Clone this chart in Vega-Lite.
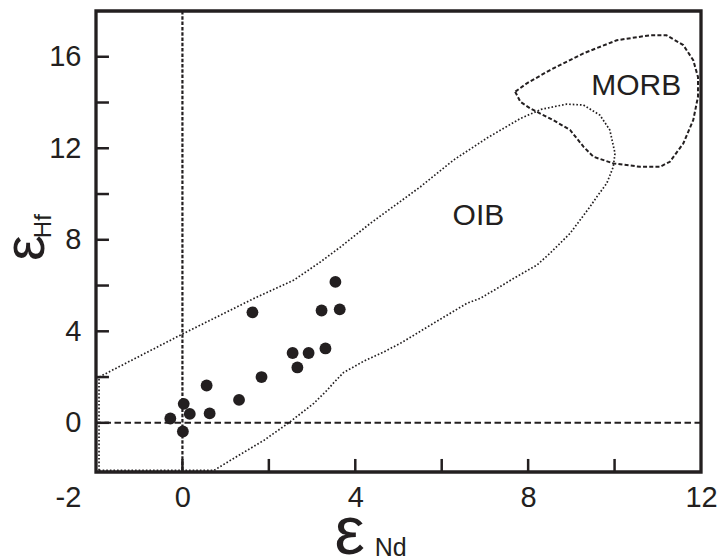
{
  "$schema": "https://vega.github.io/schema/vega-lite/v6.json",
  "width": 605,
  "height": 461,
  "autosize": {"type": "none"},
  "padding": {"left": 96, "top": 11, "right": 24, "bottom": 88},
  "config": {
    "view": {"stroke": "#231f20", "strokeWidth": 3.3},
    "font": "Liberation Sans",
    "axis": {
      "domain": false,
      "grid": false,
      "ticks": false,
      "labelFont": "Liberation Sans",
      "labelFontSize": 29,
      "labelColor": "#231f20"
    }
  },
  "datasets": {
    "oib": [
      {"o": 1, "x": -1.93, "y": -2.08},
      {"o": 2, "x": -1.93, "y": 2.0},
      {"o": 3, "x": 0, "y": 3.88},
      {"o": 4, "x": 1.66, "y": 5.44},
      {"o": 5, "x": 2.58, "y": 6.24},
      {"o": 6, "x": 3.2, "y": 7.04},
      {"o": 7, "x": 3.66, "y": 7.69},
      {"o": 8, "x": 4.35, "y": 8.72},
      {"o": 9, "x": 5.51, "y": 10.32},
      {"o": 10, "x": 6.27, "y": 11.48},
      {"o": 11, "x": 7.05, "y": 12.45},
      {"o": 12, "x": 7.82, "y": 13.3},
      {"o": 13, "x": 8.3, "y": 13.7},
      {"o": 14, "x": 8.89, "y": 13.93},
      {"o": 15, "x": 9.28, "y": 13.89},
      {"o": 16, "x": 9.66, "y": 13.45},
      {"o": 17, "x": 9.89, "y": 12.8},
      {"o": 18, "x": 10.01, "y": 11.78},
      {"o": 19, "x": 9.97, "y": 11.19},
      {"o": 20, "x": 9.82, "y": 10.47},
      {"o": 21, "x": 9.59, "y": 9.88},
      {"o": 22, "x": 9.43, "y": 9.44},
      {"o": 23, "x": 8.97, "y": 8.28},
      {"o": 24, "x": 8.5, "y": 7.4},
      {"o": 25, "x": 8.2, "y": 6.89},
      {"o": 26, "x": 7.66, "y": 6.31},
      {"o": 27, "x": 7.35, "y": 5.95},
      {"o": 28, "x": 6.89, "y": 5.44},
      {"o": 29, "x": 6.58, "y": 5.22},
      {"o": 30, "x": 5.81, "y": 4.35},
      {"o": 31, "x": 5.04, "y": 3.47},
      {"o": 32, "x": 4.66, "y": 3.1},
      {"o": 33, "x": 4.2, "y": 2.7},
      {"o": 34, "x": 3.73, "y": 2.2},
      {"o": 35, "x": 3.5, "y": 1.75},
      {"o": 36, "x": 3.35, "y": 1.43},
      {"o": 37, "x": 3.04, "y": 0.85},
      {"o": 38, "x": 2.46, "y": 0.0},
      {"o": 39, "x": 1.89, "y": -0.76},
      {"o": 40, "x": 1.12, "y": -1.63},
      {"o": 41, "x": 0.73, "y": -2.08},
      {"o": 42, "x": -1.93, "y": -2.08}
    ],
    "morb": [
      {"o": 1, "x": 7.7, "y": 14.47},
      {"o": 2, "x": 7.82, "y": 14.03},
      {"o": 3, "x": 8.05, "y": 13.74},
      {"o": 4, "x": 8.58, "y": 13.23},
      {"o": 5, "x": 8.97, "y": 12.8},
      {"o": 6, "x": 9.28, "y": 12.07},
      {"o": 7, "x": 9.51, "y": 11.63},
      {"o": 8, "x": 9.97, "y": 11.34},
      {"o": 9, "x": 10.59, "y": 11.19},
      {"o": 10, "x": 11.05, "y": 11.19},
      {"o": 11, "x": 11.28, "y": 11.41},
      {"o": 12, "x": 11.59, "y": 12.21},
      {"o": 13, "x": 11.82, "y": 13.23},
      {"o": 14, "x": 11.93, "y": 14.25},
      {"o": 15, "x": 11.93, "y": 15.12},
      {"o": 16, "x": 11.82, "y": 15.85},
      {"o": 17, "x": 11.59, "y": 16.51},
      {"o": 18, "x": 11.2, "y": 16.94},
      {"o": 19, "x": 10.82, "y": 16.94},
      {"o": 20, "x": 10.05, "y": 16.72},
      {"o": 21, "x": 9.28, "y": 16.15},
      {"o": 22, "x": 8.51, "y": 15.42},
      {"o": 23, "x": 7.97, "y": 14.84},
      {"o": 24, "x": 7.7, "y": 14.47}
    ],
    "samples": [
      {"x": 1.62, "y": 4.83},
      {"x": 3.54, "y": 6.16},
      {"x": 3.22, "y": 4.91},
      {"x": 3.64, "y": 4.96},
      {"x": 2.55, "y": 3.05},
      {"x": 2.92, "y": 3.05},
      {"x": 3.31, "y": 3.25},
      {"x": 2.66, "y": 2.42},
      {"x": 1.83, "y": 2.0},
      {"x": 0.56, "y": 1.63},
      {"x": 1.31, "y": 1.0},
      {"x": 0.03, "y": 0.83},
      {"x": 0.17, "y": 0.39},
      {"x": 0.63, "y": 0.41},
      {"x": -0.28, "y": 0.19},
      {"x": 0.01, "y": -0.38}
    ],
    "fields": [
      {"name": "OIB", "x": 6.85, "y": 9.03},
      {"name": "MORB", "x": 10.5, "y": 14.7}
    ],
    "xticks": [{"v": 0}, {"v": 2}, {"v": 4}, {"v": 6}, {"v": 8}, {"v": 10}],
    "yticks": [{"v": 0}, {"v": 2}, {"v": 4}, {"v": 6}, {"v": 8}, {"v": 10}, {"v": 12}, {"v": 14}, {"v": 16}],
    "one": [{"k": 1}]
  },
  "layer": [
    {
      "data": {"name": "one"},
      "mark": {"type": "rule", "color": "#231f20", "strokeWidth": 2.2, "strokeDash": [3.5, 1.8]},
      "encoding": {"x": {"datum": 0, "type": "quantitative", "axis": {"title": null}}}
    },
    {
      "data": {"name": "one"},
      "mark": {"type": "rule", "color": "#231f20", "strokeWidth": 2, "strokeDash": [6.5, 3.5]},
      "encoding": {"y": {"datum": 0, "type": "quantitative", "axis": {"title": null}}}
    },
    {
      "data": {"name": "oib"},
      "mark": {"type": "line", "color": "#231f20", "strokeWidth": 1.7, "strokeDash": [1.6, 2.0], "strokeCap": "butt"},
      "encoding": {
        "x": {"field": "x", "type": "quantitative", "axis": {"title": null}},
        "y": {"field": "y", "type": "quantitative", "axis": {"title": null}},
        "order": {"field": "o"}
      }
    },
    {
      "data": {"name": "morb"},
      "mark": {"type": "line", "color": "#231f20", "strokeWidth": 2, "strokeDash": [4, 2.2]},
      "encoding": {
        "x": {"field": "x", "type": "quantitative", "axis": {"title": null}},
        "y": {"field": "y", "type": "quantitative", "axis": {"title": null}},
        "order": {"field": "o"}
      }
    },
    {
      "data": {"name": "samples"},
      "mark": {"type": "point", "filled": true, "color": "#231f20", "opacity": 1, "size": 140},
      "encoding": {
        "x": {
          "field": "x", "type": "quantitative",
          "scale": {"domain": [-2, 12], "nice": false, "zero": false},
          "axis": {
            "values": [-2, 0, 4, 8, 12],
            "labelExpr": "'' + datum.value",
            "labelPadding": 11,
            "labelOffset": {"condition": {"test": "datum.value == -2", "value": -28}, "value": 0},
            "labelFlush": false,
            "labelOverlap": false,
            "title": null
          }
        },
        "y": {
          "field": "y", "type": "quantitative",
          "scale": {"domain": [-2.15, 18], "nice": false, "zero": false},
          "axis": {
            "values": [0, 4, 8, 12, 16],
            "labelExpr": "'' + datum.value",
            "labelPadding": 15,
            "labelFlush": false,
            "labelOverlap": false,
            "title": null
          }
        }
      }
    },
    {
      "data": {"name": "fields"},
      "mark": {"type": "text", "font": "Liberation Sans", "fontSize": 30, "color": "#231f20", "align": "center", "baseline": "middle"},
      "encoding": {
        "x": {"field": "x", "type": "quantitative", "axis": {"title": null}},
        "y": {"field": "y", "type": "quantitative", "axis": {"title": null}},
        "text": {"field": "name"}
      }
    },
    {
      "data": {"name": "one"},
      "mark": {"type": "text", "font": "Liberation Sans", "fontSize": 68, "color": "#231f20", "align": "center", "baseline": "alphabetic"},
      "encoding": {
        "x": {"datum": 3.87, "type": "quantitative", "axis": {"title": null}},
        "y": {"datum": -5.72, "type": "quantitative", "axis": {"title": null}},
        "text": {"value": "ε"}
      }
    },
    {
      "data": {"name": "one"},
      "mark": {"type": "text", "font": "Liberation Sans", "fontSize": 25, "color": "#231f20", "align": "left", "baseline": "alphabetic"},
      "encoding": {
        "x": {"datum": 4.45, "type": "quantitative", "axis": {"title": null}},
        "y": {"datum": -5.83, "type": "quantitative", "axis": {"title": null}},
        "text": {"value": "Nd"}
      }
    },
    {
      "data": {"name": "one"},
      "mark": {"type": "text", "font": "Liberation Sans", "fontSize": 58, "color": "#231f20", "align": "center", "baseline": "alphabetic", "angle": 270},
      "encoding": {
        "x": {"datum": -3.2, "type": "quantitative", "axis": {"title": null}},
        "y": {"datum": 7.64, "type": "quantitative", "axis": {"title": null}},
        "text": {"value": "ε"}
      }
    },
    {
      "data": {"name": "one"},
      "mark": {"type": "text", "font": "Liberation Sans", "fontSize": 24, "color": "#231f20", "align": "left", "baseline": "alphabetic", "angle": 270},
      "encoding": {
        "x": {"datum": -3.03, "type": "quantitative", "axis": {"title": null}},
        "y": {"datum": 8.07, "type": "quantitative", "axis": {"title": null}},
        "text": {"value": "Hf"}
      }
    },
    {
      "data": {"name": "xticks"},
      "mark": {"type": "rule", "color": "#231f20", "strokeWidth": 2.5, "opacity": 1},
      "encoding": {
        "x": {"field": "v", "type": "quantitative", "axis": {"title": null}},
        "y": {"datum": -2.15, "type": "quantitative", "axis": {"title": null}},
        "y2": {"datum": -1.58}
      }
    },
    {
      "data": {"name": "yticks"},
      "mark": {"type": "rule", "color": "#231f20", "strokeWidth": 2.5, "opacity": 1},
      "encoding": {
        "y": {"field": "v", "type": "quantitative", "axis": {"title": null}},
        "x": {"datum": -2, "type": "quantitative", "axis": {"title": null}},
        "x2": {"datum": -1.7}
      }
    }
  ]
}
